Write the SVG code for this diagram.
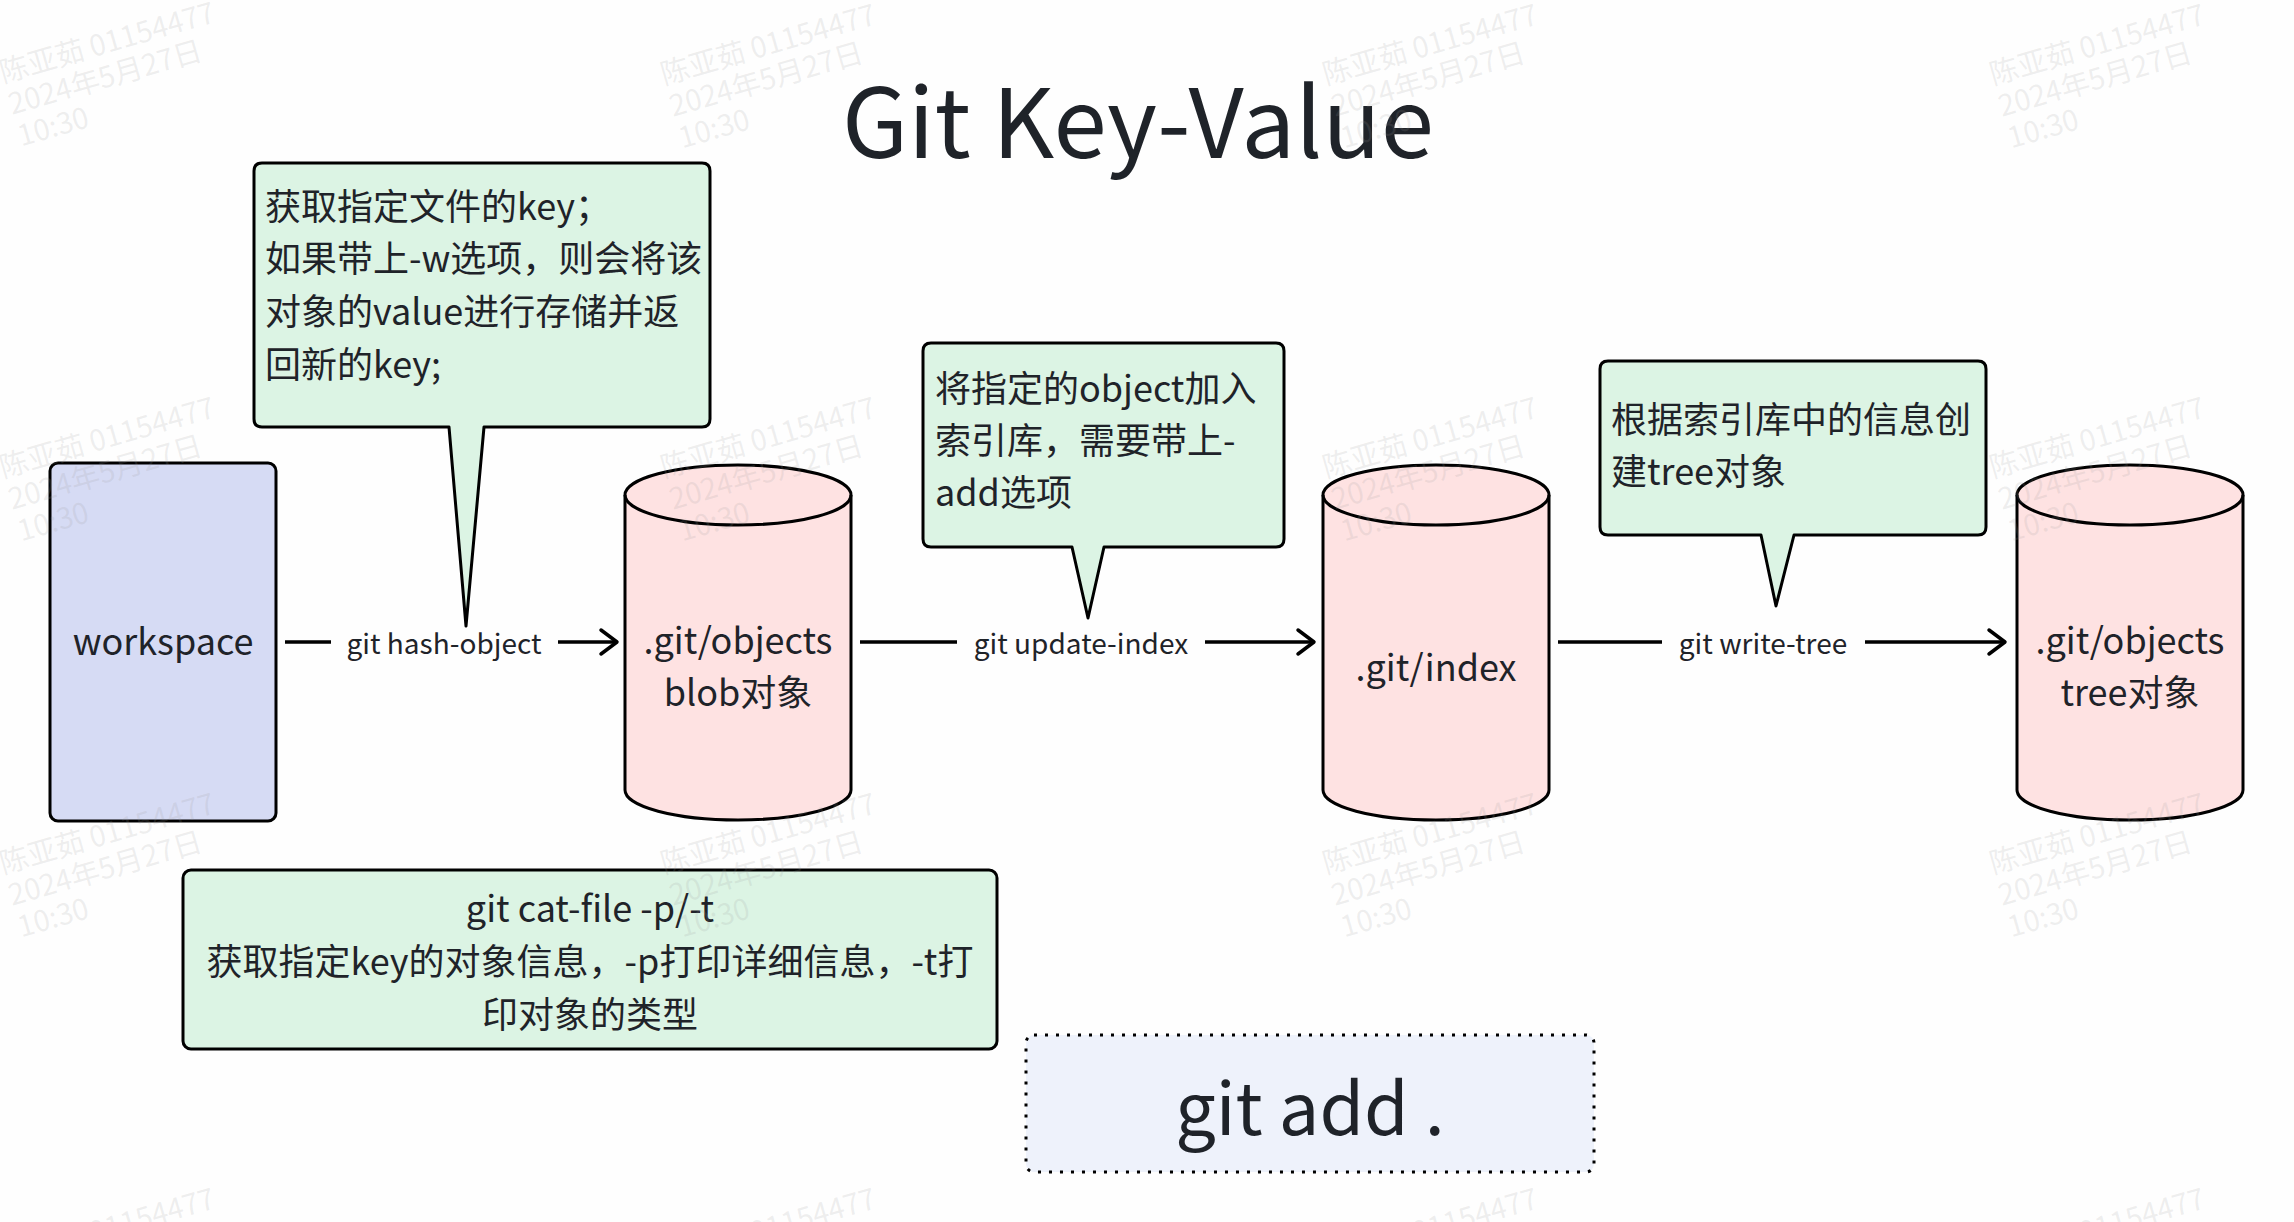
<svg xmlns="http://www.w3.org/2000/svg" xmlns:xlink="http://www.w3.org/1999/xlink" width="2294" height="1222" viewBox="0 0 2294 1222">
<style>
text{font-family:"Noto Sans CJK SC","Noto Sans",sans-serif;fill:#1f2329}
.shape{stroke:#000;stroke-width:3;stroke-linejoin:round}
.callout{fill:#dcf4e4}
.cyl{fill:#fee2e2}
.t36{font-size:36px}
.lbl{font-size:28px;text-anchor:middle}
.mid{text-anchor:middle}
.conn{fill:none;stroke:#000;stroke-width:3.5}
text.wmt{font-size:29px;fill:#9a9a9a;fill-opacity:0.16}
</style>
<defs>
<marker id="arr" markerUnits="userSpaceOnUse" markerWidth="30" markerHeight="30" viewBox="-20 -15 24 30" refX="0" refY="0" orient="auto">
<path d="M-16,-12 L0,0 L-16,12" fill="none" stroke="#000" stroke-width="3.5" stroke-linecap="round" stroke-linejoin="round"/>
</marker>
<g id="wmark">
<text class="wmt" transform="rotate(-16)" font-size="29" fill="#9a9a9a" fill-opacity="0.16"><tspan x="0" y="0">陈亚茹 01154477</tspan><tspan x="0" y="33">2024年5月27日</tspan><tspan x="0" y="66">10:30</tspan></text>
</g>
</defs>
<rect width="2294" height="1222" fill="#fefefe"/>

<g id="title"><text x="1138" y="158" class="mid" font-size="96">Git Key-Value</text></g>

<g id="workspace">
<rect class="shape" x="50" y="463" width="226" height="358" rx="8" fill="#d6dbf4"/>
<text x="163" y="655" class="t36 mid">workspace</text>
</g>

<g id="objects-blob">
<path class="shape cyl" d="M625,495 A113,30 0 0 1 851,495 L851,790 A113,30 0 0 1 625,790 Z"/>
<path class="shape" fill="none" d="M625,495 A113,30 0 0 0 851,495"/>
<text x="738" y="654" class="t36 mid">.git/objects</text>
<text x="738" y="706" class="t36 mid">blob对象</text>
</g>

<g id="index">
<path class="shape cyl" d="M1323,495 A113,30 0 0 1 1549,495 L1549,790 A113,30 0 0 1 1323,790 Z"/>
<path class="shape" fill="none" d="M1323,495 A113,30 0 0 0 1549,495"/>
<text x="1436" y="681" class="t36 mid">.git/index</text>
</g>

<g id="objects-tree">
<path class="shape cyl" d="M2017,495 A113,30 0 0 1 2243,495 L2243,790 A113,30 0 0 1 2017,790 Z"/>
<path class="shape" fill="none" d="M2017,495 A113,30 0 0 0 2243,495"/>
<text x="2130" y="654" class="t36 mid">.git/objects</text>
<text x="2130" y="706" class="t36 mid">tree对象</text>
</g>

<g id="callout-hash">
<path class="shape callout" d="M262,163 H702 Q710,163 710,171 V419 Q710,427 702,427 H484 L466,626 L449,427 H262 Q254,427 254,419 V171 Q254,163 262,163 Z"/>
<text class="t36"><tspan x="265" y="220">获取指定文件的key；</tspan><tspan x="265" y="272">如果带上-w选项，则会将该</tspan><tspan x="265" y="325">对象的value进行存储并返</tspan><tspan x="265" y="378">回新的key;</tspan></text>
</g>

<g id="callout-index">
<path class="shape callout" d="M931,343 H1276 Q1284,343 1284,351 V539 Q1284,547 1276,547 H1104 L1088,618 L1072,547 H931 Q923,547 923,539 V351 Q923,343 931,343 Z"/>
<text class="t36"><tspan x="935" y="402">将指定的object加入</tspan><tspan x="935" y="454">索引库，需要带上-</tspan><tspan x="935" y="506">add选项</tspan></text>
</g>

<g id="callout-tree">
<path class="shape callout" d="M1608,361 H1978 Q1986,361 1986,369 V527 Q1986,535 1978,535 H1794 L1776,606 L1761,535 H1608 Q1600,535 1600,527 V369 Q1600,361 1608,361 Z"/>
<text class="t36"><tspan x="1611" y="433">根据索引库中的信息创</tspan><tspan x="1611" y="485">建tree对象</tspan></text>
</g>

<g id="cat-file">
<rect class="shape callout" x="183" y="870" width="814" height="179" rx="8"/>
<text class="t36 mid"><tspan x="590" y="922">git cat-file -p/-t</tspan><tspan x="590" y="975">获取指定key的对象信息，-p打印详细信息，-t打</tspan><tspan x="590" y="1028">印对象的类型</tspan></text>
</g>

<g id="git-add">
<rect x="1026" y="1035" width="568" height="137" rx="8" fill="#eef2fb" stroke="#000" stroke-width="3" stroke-dasharray="3 8"/>
<text x="1310" y="1135" class="mid" font-size="72">git add .</text>
</g>

<g id="connectors">
<path class="conn" d="M285,642 H331 M558,642 H617" marker-end="url(#arr)"/>
<text x="444" y="654" class="lbl">git hash-object</text>
<path class="conn" d="M860,642 H957 M1205,642 H1314" marker-end="url(#arr)"/>
<text x="1081" y="654" class="lbl">git update-index</text>
<path class="conn" d="M1558,642 H1662 M1865,642 H2005" marker-end="url(#arr)"/>
<text x="1763" y="654" class="lbl">git write-tree</text>
</g>

<g id="watermarks">
<use xlink:href="#wmark" x="3" y="83"/>
<use xlink:href="#wmark" x="664" y="85"/>
<use xlink:href="#wmark" x="1326" y="85"/>
<use xlink:href="#wmark" x="1993" y="85"/>
<use xlink:href="#wmark" x="3" y="478"/>
<use xlink:href="#wmark" x="664" y="478"/>
<use xlink:href="#wmark" x="1326" y="478"/>
<use xlink:href="#wmark" x="1993" y="478"/>
<use xlink:href="#wmark" x="3" y="874"/>
<use xlink:href="#wmark" x="664" y="874"/>
<use xlink:href="#wmark" x="1326" y="874"/>
<use xlink:href="#wmark" x="1993" y="874"/>
<use xlink:href="#wmark" x="3" y="1269"/>
<use xlink:href="#wmark" x="664" y="1269"/>
<use xlink:href="#wmark" x="1326" y="1269"/>
<use xlink:href="#wmark" x="1993" y="1269"/>
</g>
</svg>
